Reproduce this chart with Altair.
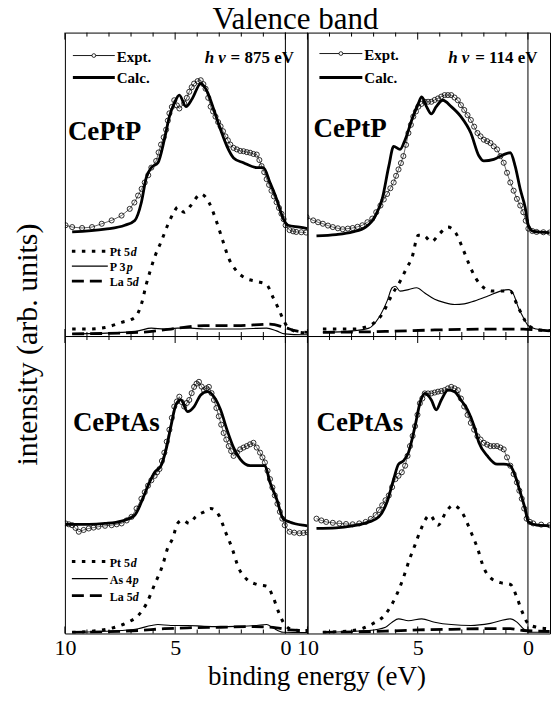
import altair as alt
import pandas as pd

FONT = "Liberation Serif"
W = 243
H_TOP = 304
H_BOT = 298
X_DOMAIN = [10, -1]

# ---- data: (binding energy eV, intensity arb. units; panel height = 100) ----
TL_EXPT = [(9.97,36.5),(9.67,35.9),(9.22,35.6),(8.77,35.9),(8.33,37.0),(7.88,38.1),(7.43,39.7),
           (7.06,41.9),(6.85,44.0),(6.68,46.3),(6.52,48.5),(6.38,50.6),(6.22,53.0),(6.08,55.5),(5.86,57.7),
           (5.75,60.5),(5.64,63.1),(5.52,65.5),(5.41,68.0),(5.33,71.0),(5.26,73.4),(5.15,75.5),(5.04,77.7),
           (4.92,76.0),(4.81,75.0),(4.59,76.7),(4.47,78.5),(4.36,80.5),(4.25,82.0),(4.14,83.2),(3.98,84.0),
           (3.84,84.3),(3.72,83.0),(3.62,81.5),(3.50,78.5),(3.39,75.6),(3.28,74.0),(3.17,72.3),(3.05,70.5),
           (2.94,69.1),(2.83,67.5),(2.72,65.8),(2.61,64.5),(2.50,63.1),(2.35,62.0),(2.20,61.5),(2.05,61.0),
           (1.90,60.9),(1.75,60.6),(1.60,60.4),(1.45,60.0),(1.30,59.8),(1.18,58.0),(1.08,56.0),(0.96,54.0),
           (0.85,51.7),(0.74,49.8),(0.63,47.9),(0.52,46.0),(0.40,44.1),(0.29,42.2),(0.18,40.3),(0.08,38.5),
           (-0.01,36.5),(-0.19,34.9),(-0.35,34.5),(-0.49,34.3),(-0.72,34.2),(-0.94,34.1)]
TL_CALC = [(9.67,34.3),(8.18,35.2),(7.28,36.5),(6.83,38.1),(6.53,44.1),(6.31,52.2),(6.08,55.5),
           (5.78,57.1),(5.49,64.7),(5.26,72.3),(5.04,76.7),(4.81,79.4),(4.51,75.6),(4.22,78.3),
           (3.84,83.2),(3.54,80.5),(3.24,74.5),(2.94,68.0),(2.65,62.5),(2.35,58.7),(1.90,57.1),
           (1.30,55.5),(1.00,55.5),(0.70,50.6),(0.40,45.2),(0.10,38.7),(-0.12,36.5),(-0.64,35.9),(-1.0,35.4)]
TL_PT = [(9.67,2.3),(8.92,2.3),(8.18,2.8),(7.43,4.5),(6.83,6.1),(6.53,10.5),(6.31,17.0),(6.13,21.5),
         (5.93,26.0),(5.64,31.0),(5.34,36.5),(5.04,41.0),(4.89,42.5),(4.59,40.8),(4.29,43.0),(3.84,46.8),
         (3.47,44.1),(3.17,38.7),(2.87,32.1),(2.57,25.6),(2.20,21.3),(1.82,19.1),(1.30,18.0),(0.85,16.9),
         (0.55,12.6),(0.33,9.3),(0.10,5.5),(-0.12,2.8),(-0.64,1.2),(-1.0,1.0)]
TL_LIG = [(9.67,0.7),(7.43,1.2),(6.68,1.7),(6.08,2.6),(5.49,2.3),(4.89,2.6),(4.29,2.6),(3.69,2.3),
          (2.94,2.3),(2.20,2.3),(1.45,2.5),(0.85,2.6),(0.40,1.7),(0.03,0.7),(-0.8,0.4),(-1.0,0.4)]
TL_LA = [(9.67,0.7),(6.68,1.2),(5.19,2.3),(4.44,3.0),(3.69,3.4),(2.20,3.4),(0.70,3.9),(0.03,2.8),
         (-0.49,1.7),(-1.0,1.2)]

TR_EXPT = [(10.04,39.2),(9.74,38.1),(9.52,37.5),(9.30,37.0),(9.07,36.4),(8.85,35.9),(8.62,35.5),(8.40,35.2),
           (8.17,35.4),(7.95,35.6),(7.73,36.0),(7.51,36.5),(7.28,37.5),(7.06,38.7),(6.88,40.8),(6.69,43.0),
           (6.54,45.0),(6.39,46.8),(6.24,48.7),(6.09,50.6),(5.98,52.8),(5.87,54.9),(5.76,57.0),(5.65,59.3),
           (5.53,63.0),(5.42,66.9),(5.31,69.6),(5.20,72.3),(5.08,74.0),(4.97,75.6),(4.83,76.5),(4.68,77.2),
           (4.53,77.2),(4.38,77.2),(4.23,77.8),(4.08,78.3),(3.93,78.9),(3.78,79.4),(3.63,79.4),(3.48,79.4),
           (3.33,78.6),(3.18,77.7),(3.04,76.1),(2.89,74.5),(2.74,72.8),(2.59,71.2),(2.44,69.0),(2.29,66.9),
           (2.15,65.8),(2.00,64.7),(1.85,64.2),(1.70,63.6),(1.55,62.5),(1.40,61.5),(1.25,59.3),(1.10,57.1),
           (0.95,53.8),(0.80,50.6),(0.65,47.9),(0.50,45.2),(0.35,43.0),(0.21,40.8),(0.10,38.0),(-0.02,35.4),
           (-0.20,34.6),(-0.39,34.3),(-0.70,34.2),(-0.98,34.1)]
TR_CALC = [(9.59,33.0),(8.70,33.4),(7.95,34.3),(7.36,35.9),(6.91,39.7),(6.61,45.2),(6.31,56.0),
           (6.09,62.5),(5.80,61.5),(5.57,64.7),(5.27,71.2),(4.97,76.7),(4.82,78.8),(4.60,75.6),
           (4.38,73.2),(4.16,75.6),(3.86,77.7),(3.48,75.6),(3.04,72.3),(2.59,66.9),(2.22,59.3),
           (2.00,57.7),(1.55,58.2),(1.10,59.8),(0.80,60.4),(0.58,56.0),(0.35,48.4),(0.13,42.5),
           (-0.02,36.5),(-0.24,34.5),(-0.98,34.1)]
TR_PT = [(9.30,2.3),(7.95,2.3),(7.21,3.4),(6.61,7.2),(6.16,13.7),(5.80,18.0),(5.50,22.4),(5.27,25.6),
         (4.97,33.2),(4.75,33.2),(4.38,31.1),(4.00,33.8),(3.63,35.9),(3.26,33.8),(2.96,28.9),(2.66,23.5),
         (2.37,19.1),(2.00,15.9),(1.62,14.8),(1.18,14.8),(0.80,14.8),(0.50,10.4),(0.21,6.1),(-0.02,3.4),
         (-0.54,2.0),(-1.0,1.8)]
TR_LIG = [(9.30,1.2),(7.95,1.7),(7.21,2.6),(6.76,6.1),(6.39,11.5),(6.16,15.9),(6.01,16.4),(5.80,14.8),
          (5.42,15.3),(5.05,15.9),(4.68,14.2),(4.23,12.1),(3.78,11.0),(3.33,10.4),(2.89,10.6),(2.44,11.5),
          (1.84,13.1),(1.25,14.8),(0.88,15.3),(0.65,13.7),(0.43,9.3),(0.21,6.1),(-0.02,3.4),(-0.39,2.3),
          (-0.98,1.7)]
TR_LA = [(9.30,1.2),(6.46,1.5),(4.23,2.0),(2.74,2.2),(1.25,2.3),(0.21,2.3),(-0.39,2.0),(-0.98,1.7)]

BL_EXPT = [(9.97,37.0),(9.82,36.7),(9.67,36.4),(9.52,35.5),(9.37,34.2),(9.15,34.8),(8.92,35.3),(8.70,35.6),
           (8.48,35.9),(8.18,36.2),(7.88,36.4),(7.65,36.7),(7.43,37.0),(7.20,38.0),(6.98,39.2),(6.75,42.0),
           (6.53,45.3),(6.38,47.5),(6.23,49.7),(6.08,51.5),(5.93,53.0),(5.82,54.2),(5.71,55.3),(5.60,58.0),
           (5.49,60.8),(5.38,64.5),(5.26,68.5),(5.15,72.5),(5.04,76.3),(4.92,78.0),(4.81,79.6),(4.70,77.8),
           (4.59,76.3),(4.47,77.5),(4.36,78.5),(4.25,80.8),(4.14,82.9),(4.03,84.0),(3.92,84.6),(3.80,83.0),
           (3.69,81.8),(3.58,82.4),(3.47,82.9),(3.35,80.8),(3.24,78.5),(3.13,75.8),(3.02,73.0),(2.91,70.2),
           (2.80,67.4),(2.68,65.2),(2.57,63.0),(2.46,61.3),(2.35,59.7),(2.20,60.8),(2.05,61.9),(1.90,62.5),
           (1.75,63.0),(1.60,63.6),(1.45,64.1),(1.30,62.5),(1.15,60.8),(1.04,59.2),(0.93,57.5),(0.81,54.7),
           (0.70,51.9),(0.59,49.1),(0.48,46.4),(0.36,43.6),(0.25,40.9),(0.14,38.6),(0.03,36.4),(-0.19,34.2),
           (-0.40,33.9),(-0.64,33.7),(-0.82,33.8),(-1.0,34.0)]
BL_CALC = [(9.97,36.7),(8.92,36.7),(8.18,37.0),(7.43,37.8),(6.83,39.8),(6.53,44.2),(6.23,49.7),
           (5.93,54.2),(5.64,56.4),(5.41,61.9),(5.19,69.7),(4.96,76.9),(4.74,78.5),(4.44,74.6),
           (4.14,76.3),(3.84,80.2),(3.54,81.3),(3.24,79.6),(2.94,75.2),(2.65,68.5),(2.35,62.5),
           (2.05,58.6),(1.60,56.4),(1.15,56.4),(0.93,56.4),(0.70,50.8),(0.40,45.3),(0.10,38.6),
           (-0.19,37.5),(-0.79,36.4),(-1.0,36.2)]
BL_PT = [(9.67,0.4),(8.48,1.0),(7.73,2.1),(7.13,3.8),(6.68,6.0),(6.31,9.9),(5.93,16.5),(5.56,23.1),
         (5.34,28.7),(5.11,32.0),(4.89,37.0),(4.66,38.1),(4.36,37.0),(4.07,39.2),(3.69,40.9),(3.39,42.0),
         (3.02,39.8),(2.72,34.2),(2.42,28.7),(2.12,22.0),(1.75,18.2),(1.30,16.5),(0.85,15.9),(0.55,12.1),
         (0.33,7.6),(0.10,3.8),(-0.19,1.6),(-0.64,1.0),(-1.0,1.0)]
BL_LIG = [(9.67,0.4),(7.43,1.0),(6.68,1.6),(6.08,2.7),(5.78,3.0),(5.19,2.7),(4.44,2.7),(3.69,2.4),
          (2.94,2.3),(2.20,2.4),(1.30,2.7),(0.85,3.0),(0.55,1.8),(0.10,0.4),(-0.8,0.3),(-1.0,0.3)]
BL_LA = [(9.67,0.4),(6.68,1.0),(5.49,1.6),(4.44,1.9),(2.94,2.1),(1.45,2.3),(0.40,1.9),(-0.19,1.2),(-1.0,1.0)]

BR_EXPT = [(9.59,38.6),(9.37,38.0),(9.15,37.5),(8.85,37.2),(8.55,37.0),(8.25,36.8),(7.95,36.7),(7.65,37.0),
           (7.36,37.5),(7.13,38.5),(6.91,39.8),(6.76,41.5),(6.61,43.1),(6.46,44.8),(6.31,46.4),(6.16,49.2),
           (6.01,51.9),(5.87,53.0),(5.72,54.2),(5.57,56.4),(5.46,59.7),(5.35,63.0),(5.23,66.4),(5.12,69.7),
           (5.01,73.5),(4.90,77.4),(4.79,79.0),(4.68,80.7),(4.53,80.7),(4.38,80.7),(4.23,81.0),(4.08,81.3),
           (3.93,81.5),(3.78,81.8),(3.63,82.4),(3.48,82.9),(3.33,82.4),(3.18,81.8),(3.04,79.0),(2.89,76.3),
           (2.74,73.5),(2.59,70.8),(2.44,68.5),(2.29,66.3),(2.15,65.2),(2.00,64.1),(1.85,63.5),(1.70,63.0),
           (1.55,63.0),(1.40,63.0),(1.25,62.5),(1.10,61.9),(0.95,59.2),(0.80,56.4),(0.65,53.6),(0.50,50.8),
           (0.39,48.0),(0.28,45.3),(0.17,42.0),(0.06,38.6),(-0.09,37.5),(-0.24,37.0),(-0.60,36.6),(-0.98,36.4)]
BR_CALC = [(9.59,35.3),(8.70,35.5),(7.95,36.2),(7.21,37.5),(6.76,39.2),(6.39,44.2),(6.09,51.9),
           (5.87,56.9),(5.65,58.0),(5.42,60.8),(5.12,69.7),(4.90,77.4),(4.68,80.7),(4.38,78.5),
           (4.16,75.2),(3.93,78.5),(3.63,81.8),(3.33,81.3),(3.04,78.5),(2.74,75.2),(2.44,69.7),
           (2.22,64.1),(1.84,59.7),(1.40,56.9),(1.10,56.9),(0.80,56.4),(0.58,53.0),(0.35,47.5),
           (0.13,42.0),(-0.02,37.5),(-0.39,36.4),(-0.98,36.2)]
BR_PT = [(9.30,0.4),(7.95,1.0),(7.06,3.2),(6.46,6.5),(6.01,12.1),(5.65,18.7),(5.35,25.4),(5.12,29.8),
         (4.90,34.2),(4.45,39.8),(4.08,36.4),(3.71,40.9),(3.41,43.1),(2.96,40.3),(2.59,34.2),(2.29,28.7),
         (2.00,22.0),(1.70,18.7),(1.25,17.1),(0.80,16.5),(0.50,12.1),(0.28,7.6),(-0.02,3.2),(-0.39,2.1),
         (-0.98,1.6)]
BR_LIG = [(9.30,0.4),(7.21,1.0),(6.46,2.1),(6.16,3.8),(5.87,4.9),(5.42,4.3),(4.82,4.9),(4.23,3.8),
          (3.48,3.0),(2.59,2.7),(1.70,3.4),(0.80,4.9),(0.50,3.8),(0.21,1.6),(-0.09,0.4),(-0.98,0.4)]
BR_LA = [(9.30,0.4),(6.46,0.8),(4.97,1.2),(3.48,1.4),(2.00,1.6),(0.80,1.6),(0.21,1.0),(-0.98,0.7)]

MINOR_TICKS = [9, 8, 7, 6, 4, 3, 2, 1]
MAJOR_TICKS = [10, 5, 0]
TICK_LABELS = [10, 5, 0]


def frame(pts):
    return pd.DataFrame(pts, columns=["e", "i"])


ONE = alt.Data(values=[{}])


def panel(expt, calc, pt, lig, la, height, compound, comp_pos, x_axis, y_axis,
          hv=None, top_legend=None, comp_legend=None):
    xs = alt.Scale(domain=X_DOMAIN, nice=False, zero=False)
    ys = alt.Scale(domain=[0, 100], nice=False, zero=False)
    X = alt.X("e:Q", scale=xs, axis=x_axis)
    Y = alt.Y("i:Q", scale=ys, axis=y_axis)
    layers = []
    # vertical line at 0 eV
    layers.append(alt.Chart(pd.DataFrame({"e": [0]})).mark_rule(color="black", strokeWidth=1).encode(
        x=X, y=alt.value(0), y2=alt.value(height)))
    # inward ticks top & bottom
    for vals, ln in ((MINOR_TICKS, 4), (MAJOR_TICKS, 7)):
        d = pd.DataFrame({"e": vals})
        layers.append(alt.Chart(d).mark_rule(color="black", strokeWidth=1).encode(
            x=X, y=alt.value(0), y2=alt.value(ln)))
        layers.append(alt.Chart(d).mark_rule(color="black", strokeWidth=1).encode(
            x=X, y=alt.value(height), y2=alt.value(height - ln)))
    # components
    layers.append(alt.Chart(frame(la)).mark_line(color="black", strokeWidth=2.8, strokeDash=[12, 6],
                                                 clip=True, interpolate="monotone").encode(x=X, y=Y))
    layers.append(alt.Chart(frame(lig)).mark_line(color="black", strokeWidth=1.1,
                                                  clip=True, interpolate="monotone").encode(x=X, y=Y))
    layers.append(alt.Chart(frame(pt)).mark_line(color="black", strokeWidth=3, strokeDash=[3.5, 6.5],
                                                 clip=True, interpolate="monotone").encode(x=X, y=Y))
    # calc & expt
    layers.append(alt.Chart(frame(calc)).mark_line(color="black", strokeWidth=2.8,
                                                   clip=True, interpolate="monotone").encode(x=X, y=Y))
    layers.append(alt.Chart(frame(expt)).mark_line(color="black", strokeWidth=0.6, clip=True).encode(x=X, y=Y))
    layers.append(alt.Chart(frame(expt)).mark_point(shape="circle", filled=False, size=26, color="black",
                                                    strokeWidth=0.8, opacity=1, clip=True).encode(x=X, y=Y))
    # compound name
    layers.append(alt.Chart(ONE).mark_text(font=FONT, fontSize=27, fontWeight="bold", align="left",
                                           baseline="alphabetic").encode(
        x=alt.value(comp_pos[0]), y=alt.value(comp_pos[1]), text=alt.value(compound)))
    if hv is not None:
        hx1, hx2, hy, hval = hv
        layers.append(alt.Chart(ONE).mark_text(font=FONT, fontSize=17, fontWeight="bold", fontStyle="italic",
                                               align="left", baseline="alphabetic").encode(
            x=alt.value(hx1), y=alt.value(hy), text=alt.value("h ν")))
        layers.append(alt.Chart(ONE).mark_text(font=FONT, fontSize=17, fontWeight="bold",
                                               align="left", baseline="alphabetic").encode(
            x=alt.value(hx2), y=alt.value(hy), text=alt.value(hval)))
    if top_legend is not None:
        lx1, lx2, ly1, ly2 = top_legend
        layers.append(alt.Chart(ONE).mark_rule(color="black", strokeWidth=0.9).encode(
            x=alt.value(lx1), x2=alt.value(lx2), y=alt.value(ly1)))
        layers.append(alt.Chart(ONE).mark_point(shape="circle", filled=True, fill="white", stroke="black",
                                                size=14, strokeWidth=0.8, opacity=1).encode(
            x=alt.value((lx1 + lx2) / 2), y=alt.value(ly1)))
        layers.append(alt.Chart(ONE).mark_rule(color="black", strokeWidth=3).encode(
            x=alt.value(lx1), x2=alt.value(lx2), y=alt.value(ly2)))
        for txt, yy in (("Expt.", ly1), ("Calc.", ly2)):
            layers.append(alt.Chart(ONE).mark_text(font=FONT, fontSize=15, fontWeight="bold", align="left",
                                                   baseline="middle").encode(
                x=alt.value(lx2 + 2), y=alt.value(yy + 1), text=alt.value(txt)))
    if comp_legend is not None:
        cx1, cx2, ys3, names = comp_legend
        styles = [dict(strokeWidth=3, strokeDash=[3.5, 6.5]), dict(strokeWidth=1.1), dict(strokeWidth=2.8, strokeDash=[12, 6])]
        for (base, ital, off), yy, st in zip(names, ys3, styles):
            layers.append(alt.Chart(ONE).mark_rule(color="black", **st).encode(
                x=alt.value(cx1), x2=alt.value(cx2), y=alt.value(yy)))
            layers.append(alt.Chart(ONE).mark_text(font=FONT, fontSize=12, fontWeight="bold", align="left",
                                                   baseline="middle").encode(
                x=alt.value(cx2 + 2), y=alt.value(yy + 1), text=alt.value(base)))
            layers.append(alt.Chart(ONE).mark_text(font=FONT, fontSize=12, fontWeight="bold", fontStyle="italic",
                                                   align="left", baseline="middle").encode(
                x=alt.value(cx2 + 2 + off), y=alt.value(yy + 1), text=alt.value(ital)))
    return alt.layer(*layers).properties(width=W, height=height)


no_x = None
lab_common = dict(values=TICK_LABELS, format="d", ticks=False, domain=False, grid=False,
                  labelFont=FONT, labelFontSize=22, labelPadding=4, labelFlush=False, labelColor="black")
x_bl = alt.Axis(title="binding energy (eV)", titleFont=FONT, titleFontSize=27, titleFontWeight="normal",
                titleX=252, titleY=51, titleBaseline="alphabetic", titleAlign="center", titleColor="black",
                **lab_common)
x_br = alt.Axis(title=None, **lab_common)
y_tl = alt.Axis(title="intensity (arb. units)", labels=False, ticks=False, domain=False, grid=False,
                titleFont=FONT, titleFontSize=30, titleFontWeight="normal", titleAngle=270,
                titleX=-37, titleY=312, titleAlign="center", titleBaseline="middle", titleColor="black")

tl = panel(TL_EXPT, TL_CALC, TL_PT, TL_LIG, TL_LA, H_TOP, "CePtP", (3, 108), no_x, y_tl,
           hv=(140, 166, 30, "= 875 eV"), top_legend=(8, 50, 23, 45),
           comp_legend=(7, 43, [219, 234, 249], [("Pt 5", "d", 21), ("P 3", "p", 17), ("La 5", "d", 23)]))
tr = panel(TR_EXPT, TR_CALC, TR_PT, TR_LIG, TR_LA, H_TOP, "CePtP", (6, 105), no_x, None,
           hv=(141, 168, 30, "= 114 eV"), top_legend=(12, 55, 21, 45))
bl = panel(BL_EXPT, BL_CALC, BL_PT, BL_LIG, BL_LA, H_BOT, "CePtAs", (8, 95), x_bl, None,
           comp_legend=(7, 43, [226, 243, 260], [("Pt 5", "d", 21), ("As 4", "p", 23), ("La 5", "d", 23)]))
br = panel(BR_EXPT, BR_CALC, BR_PT, BR_LIG, BR_LA, H_BOT, "CePtAs", (9, 95), x_br, None)

chart = alt.concat(tl, tr, bl, br, columns=2, spacing=0, bounds="flush").properties(
    title=alt.TitleParams("Valence band", font=FONT, fontSize=31, fontWeight="normal", color="black",
                          anchor="middle", offset=-4, dx=14),
    padding={"left": 4, "top": -5, "right": 0, "bottom": 0},
).configure_view(stroke="black", strokeWidth=1).configure_concat(spacing=0)

chart.save("out.html", embed_options={"renderer": "svg", "actions": False})
